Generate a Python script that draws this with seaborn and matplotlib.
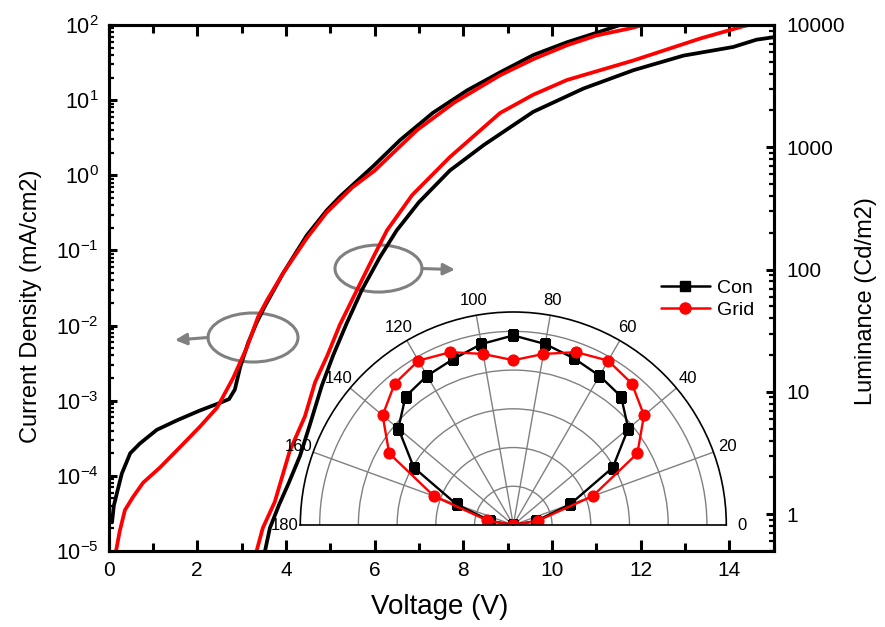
import numpy as np
import matplotlib
matplotlib.use("Agg")
import matplotlib.pyplot as plt
import seaborn as sns
from matplotlib.patches import Ellipse
from matplotlib.lines import Line2D
from matplotlib.ticker import FixedLocator, FuncFormatter, LogLocator, MultipleLocator, NullFormatter

# ---- current density vs voltage (mA/cm2) ----
volt_j_con = [0.08, 0.12, 0.19, 0.30, 0.49, 0.71, 1.09, 1.55, 2.06, 2.50, 2.72, 2.85,
              2.97, 3.15, 3.35, 3.53, 3.94, 4.47, 4.92, 5.22, 5.97, 6.58, 7.32, 8.09,
              8.83, 9.58, 10.34, 11.08, 11.54]
j_con = [2.4e-5, 4.0e-5, 5.9e-5, 1.07e-4, 2.0e-4, 2.7e-4, 4.1e-4, 5.5e-4, 7.4e-4, 9.3e-4,
         1.05e-3, 1.41e-3, 2.8e-3, 5.9e-3, 1.12e-2, 1.82e-2, 5.0e-2, 0.158, 0.34, 0.52,
         1.32, 2.95, 6.8, 13.5, 23.4, 39.8, 58.9, 81.3, 100.0]

volt_j_grid = [0.17, 0.25, 0.37, 0.55, 0.78, 1.16, 1.61, 2.06, 2.45, 2.81, 3.12, 3.37,
               3.58, 3.94, 4.47, 4.92, 5.50, 6.00, 6.96, 7.80, 8.83, 9.60, 10.34, 11.00,
               11.80, 12.05]
j_grid = [1.0e-5, 1.8e-5, 3.5e-5, 5.2e-5, 8.1e-5, 1.29e-4, 2.4e-4, 4.5e-4, 8.1e-4, 2.0e-3,
          5.1e-3, 1.29e-2, 2.2e-2, 5.0e-2, 0.145, 0.32, 0.69, 1.15, 4.0, 9.3, 21.4, 35.5,
          53.7, 72.4, 91.2, 100.0]

# ---- luminance vs voltage (Cd/m2) ----
volt_l_con = [3.53, 3.64, 3.85, 4.06, 4.32, 4.55, 4.81, 5.07, 5.36, 5.71, 6.12, 6.50,
              7.00, 7.70, 8.47, 9.58, 10.71, 11.84, 12.97, 14.09, 14.62, 15.0]
lum_con = [0.50, 0.77, 1.2, 1.78, 3.0, 5.5, 11.2, 20.0, 35.5, 67.6, 126, 209, 355, 646,
           1047, 1950, 3020, 4270, 5620, 6610, 7590, 7940]

volt_l_grid = [3.34, 3.48, 3.75, 4.09, 4.43, 4.66, 4.94, 5.22, 5.60, 5.97, 6.28, 6.85,
               7.70, 8.83, 9.58, 10.34, 11.84, 13.35, 14.32, 14.45]
lum_grid = [0.50, 0.77, 1.26, 3.3, 6.3, 12.0, 20.0, 35.5, 67.6, 126, 209, 407, 832, 1905,
            2690, 3550, 5130, 7760, 9770, 10000]

# ---- angular emission profile (normalised intensity) ----
angle_deg = [0, 10, 20, 30, 40, 50, 60, 70, 80, 90, 100, 110, 120, 130, 140, 150, 160, 170, 180]
int_con = [0.0, 0.12, 0.312, 0.593, 0.775, 0.866, 0.89, 0.916, 0.949, 0.979,
           0.949, 0.911, 0.89, 0.866, 0.775, 0.593, 0.312, 0.12, 0.0]
int_grid = [0.0, 0.13, 0.436, 0.74, 0.881, 0.953, 0.98, 0.95, 0.897, 0.851,
            0.897, 0.95, 0.98, 0.953, 0.881, 0.74, 0.436, 0.136, 0.0]

x_ticks = [0, 2, 4, 6, 8, 10, 12, 14]
j_ticks = [1e-5, 1e-4, 1e-3, 1e-2, 1e-1, 1e0, 1e1, 1e2]
lum_ticks = [1, 10, 100, 1000, 10000]
angle_ticks = [0, 20, 40, 60, 80, 100, 120, 140, 160, 180]

sns.set_theme(style="ticks")
plt.rcParams["font.family"] = ["Liberation Sans", "DejaVu Sans"]
plt.rcParams["mathtext.default"] = "regular"
plt.rcParams["axes.edgecolor"] = "black"
plt.rcParams["xtick.color"] = "black"
plt.rcParams["ytick.color"] = "black"
plt.rcParams["text.color"] = "black"
plt.rcParams["axes.labelcolor"] = "black"

W, H = 885, 627
fig = plt.figure(figsize=(W / 100, H / 100), dpi=100)
fig.patch.set_facecolor("white")

# main axes (pixel box: x 108.5-773.5, y 25-551)
ax = fig.add_axes([108.5 / W, 1 - 551 / H, 665 / W, 526 / H])
ax2 = ax.twinx()

lw_main = 2.7
sns.lineplot(x=volt_j_con, y=j_con, ax=ax, color="black", lw=lw_main, sort=False, estimator=None)
sns.lineplot(x=volt_j_grid, y=j_grid, ax=ax, color="#ff0000", lw=lw_main, sort=False, estimator=None)
sns.lineplot(x=volt_l_con, y=lum_con, ax=ax2, color="black", lw=lw_main, sort=False, estimator=None)
sns.lineplot(x=volt_l_grid, y=lum_grid, ax=ax2, color="#ff0000", lw=lw_main, sort=False, estimator=None)

ax.set_xlim(0, 15)
ax.set_yscale("log")
ax.set_ylim(1e-5, 1e2)
ax2.set_yscale("log")
ax2.set_ylim(0.5, 1e4)

ax.xaxis.set_major_locator(FixedLocator(x_ticks))
ax.xaxis.set_minor_locator(MultipleLocator(1))
ax.yaxis.set_major_locator(FixedLocator(j_ticks))
ax.yaxis.set_major_formatter(FuncFormatter(lambda v, p: f"$10^{{{int(round(np.log10(v)))}}}$"))
ax.yaxis.set_minor_locator(LogLocator(base=10, subs=np.arange(2, 10), numticks=20))
ax.yaxis.set_minor_formatter(NullFormatter())
ax2.yaxis.set_major_locator(FixedLocator(lum_ticks))
ax2.yaxis.set_major_formatter(FuncFormatter(lambda v, p: f"{v:g}"))
ax2.yaxis.set_minor_locator(LogLocator(base=10, subs=np.arange(2, 10), numticks=20))
ax2.yaxis.set_minor_formatter(NullFormatter())

for a in (ax, ax2):
    for s in a.spines.values():
        s.set_linewidth(2.2)
        s.set_color("black")

ax.tick_params(axis="x", which="major", direction="in", length=8, width=2.2,
               top=True, bottom=True, labelsize=15, pad=7)
ax.tick_params(axis="x", which="minor", direction="in", length=5.5, width=2.2, top=True, bottom=True)
ax.tick_params(axis="y", which="major", direction="in", length=6, width=2.2,
               left=True, right=False, labelsize=15.5, pad=7)
ax.tick_params(axis="y", which="minor", direction="in", length=3.5, width=1.6, left=True, right=False)
ax2.tick_params(axis="y", which="major", direction="in", length=6, width=2.2,
                labelsize=15, pad=9)
ax2.tick_params(axis="y", which="minor", direction="in", length=3.5, width=1.6)

ax.set_xlabel("Voltage (V)", fontsize=20)
ax.set_ylabel("Current Density (mA/cm2)", fontsize=17)
ax2.set_ylabel("Luminance (Cd/m2)", fontsize=17)
ax.xaxis.set_label_coords(0.4985, -0.081)
ax.yaxis.set_label_coords(-0.1, 0.466)
ax2.yaxis.set_label_coords(1.122, 0.475)

# axis indicators: ellipse around each curve pair with an arrow toward its axis
grey = "#808080"
ax.add_patch(Ellipse((0.2173, 0.4059), 0.1353, 0.0932, transform=ax.transAxes,
                     fill=False, ec=grey, lw=2.2, zorder=1))
ax.annotate("", xy=(0.100, 0.401), xytext=(0.1496, 0.4059), xycoords="axes fraction",
            arrowprops=dict(arrowstyle="-|>", color=grey, lw=2.2, mutation_scale=17,
                            shrinkA=0, shrinkB=0))
ax.add_patch(Ellipse((0.406, 0.537), 0.1308, 0.0894, transform=ax.transAxes,
                     fill=False, ec=grey, lw=2.2, zorder=1))
ax.annotate("", xy=(0.521, 0.535), xytext=(0.4714, 0.537), xycoords="axes fraction",
            arrowprops=dict(arrowstyle="-|>", color=grey, lw=2.2, mutation_scale=17,
                            shrinkA=0, shrinkB=0))

# polar inset: half disc centred at (513.3, 525) px with radius 213 px.
# A half-disc polar axes keeps a square frame, the disc centre sitting at 1/4 height.
cx, cy, R = 513.3, 525, 213
pax = fig.add_axes([(cx - R) / W, (H - cy - R / 2) / H, 2 * R / W, 2 * R / H],
                   projection="polar")
pax.patch.set_facecolor("white")
pax.set_thetamin(0)
pax.set_thetamax(180)
pax.set_rlim(0, 1.1)
pax.set_rticks([0.2, 0.4, 0.6, 0.8, 1.0])
pax.set_yticklabels([])
pax.set_xticks(np.radians(angle_ticks))
pax.set_xticklabels([str(a) for a in angle_ticks])
pax.set_xticks(np.radians(np.arange(10, 180, 20)), minor=True)
pax.grid(True, color=grey, lw=1.0)
pax.tick_params(axis="x", which="major", direction="in", length=7, width=1,
                labelsize=12, pad=4, colors="black")
pax.tick_params(axis="x", which="minor", direction="in", length=4, width=1, colors="black")
pax.tick_params(axis="y", length=0)
for s in pax.spines.values():
    s.set_color("black")
    s.set_linewidth(1.2)

theta = np.radians(angle_deg)
sns.lineplot(x=theta, y=int_con, ax=pax, color="black", lw=1.7, marker="s", markersize=7,
             markeredgecolor="black", sort=False, estimator=None)
sns.lineplot(x=theta, y=int_grid, ax=pax, color="#ff0000", lw=1.7, marker="o", markersize=8,
             markeredgecolor="#ff0000", sort=False, estimator=None)
pax.set_xlabel("")
pax.set_ylabel("")

handles = [
    Line2D([], [], color="black", lw=1.8, marker="s", markersize=7),
    Line2D([], [], color="#ff0000", lw=1.8, marker="o", markersize=8),
]
fig.legend(handles, ["Con", "Grid"], loc="upper left", bbox_to_anchor=(661 / W, 1 - 279 / H),
           frameon=False, fontsize=14, handlelength=2.5, handletextpad=0.4,
           labelspacing=0.25, borderpad=0, borderaxespad=0)

fig.savefig("out.png", dpi=100, facecolor="white")
